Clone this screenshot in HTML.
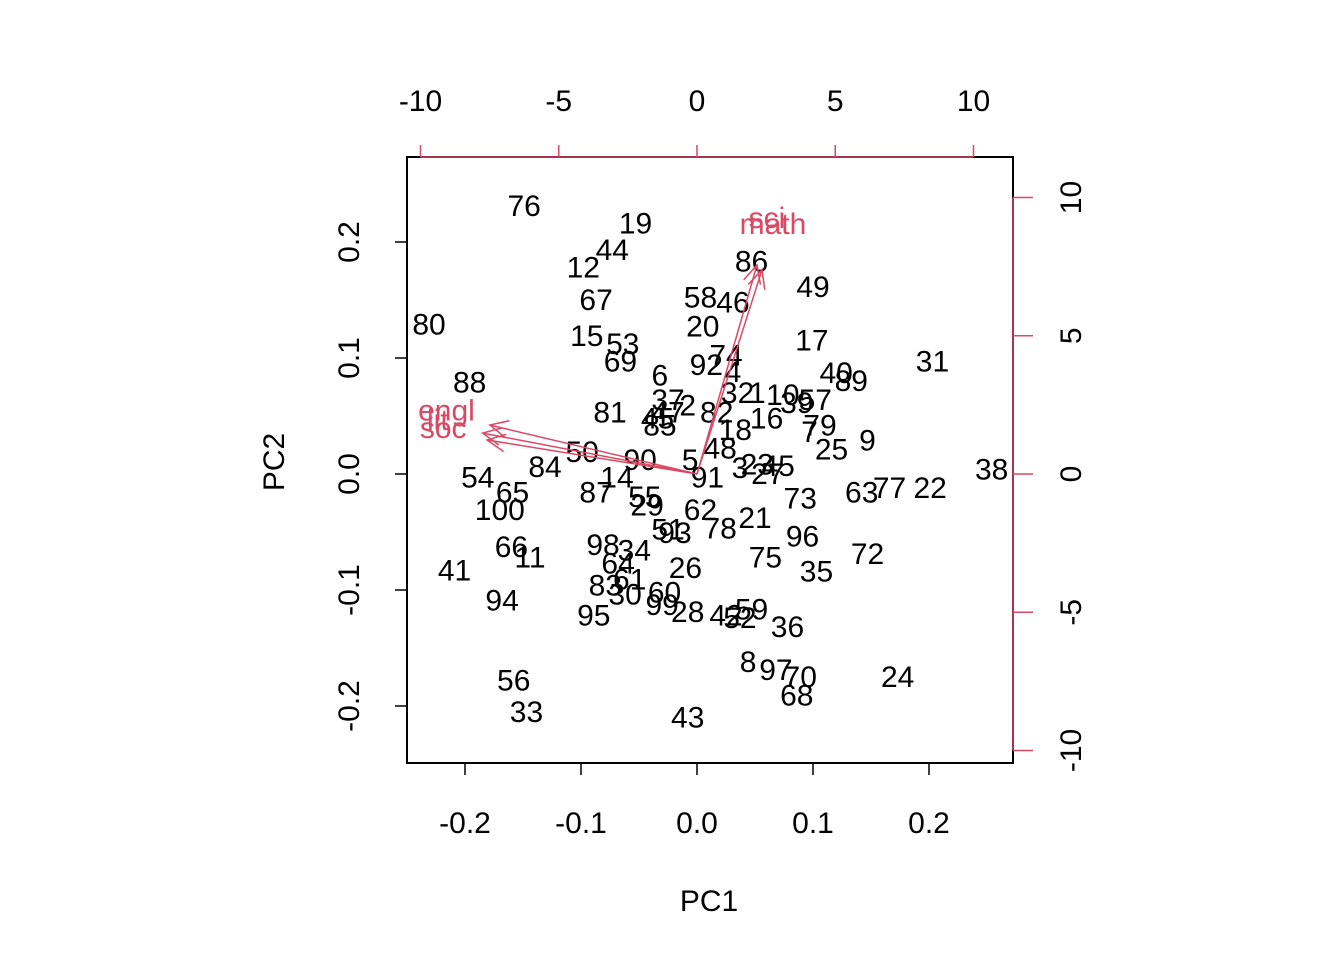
<!DOCTYPE html>
<html><head><meta charset="utf-8"><style>
html,body{margin:0;padding:0;background:#fff;}
svg{display:block;font-family:"Liberation Sans","Noto Sans CJK JP",sans-serif;}
</style></head><body>
<svg id="chart" width="1344" height="960" xmlns="http://www.w3.org/2000/svg"></svg>
<script>
const obsLabels = ["76","19","44","12","67","80","15","53","69","88","6","92","74","4","32","1","10","39","57","40","89","37","2","81","47","45","85","82","18","16","79","7","9","25","50","90","5","48","91","3","23","45","27","84","54","65","100","14","87","55","29","62","21","73","63","77","22","38","31","49","17","86","58","46","20","66","11","41","94","98","34","64","61","83","30","60","99","95","28","42","52","59","36","93","51","78","26","75","96","35","72","8","97","70","68","24","56","33","43"];
const pc1 = [-0.149,-0.053,-0.073,-0.098,-0.087,-0.231,-0.095,-0.064,-0.066,-0.196,-0.032,0.008,0.025,0.031,0.035,0.052,0.074,0.086,0.102,0.120,0.133,-0.025,-0.008,-0.075,-0.025,-0.034,-0.032,0.017,0.033,0.060,0.106,0.097,0.147,0.116,-0.099,-0.049,-0.006,0.020,0.009,0.037,0.052,0.070,0.061,-0.131,-0.189,-0.159,-0.170,-0.069,-0.087,-0.045,-0.043,0.003,0.050,0.089,0.142,0.166,0.201,0.254,0.203,0.100,0.099,0.047,0.003,0.031,0.005,-0.160,-0.144,-0.209,-0.168,-0.081,-0.054,-0.068,-0.058,-0.079,-0.062,-0.028,-0.030,-0.089,-0.008,0.025,0.037,0.047,0.078,-0.019,-0.025,0.020,-0.010,0.059,0.091,0.103,0.147,0.044,0.068,0.089,0.086,0.173,-0.158,-0.147,-0.008];
const pc2 = [0.231,0.216,0.193,0.178,0.150,0.129,0.119,0.112,0.097,0.079,0.085,0.094,0.102,0.088,0.070,0.070,0.068,0.061,0.064,0.087,0.080,0.064,0.059,0.053,0.053,0.048,0.042,0.053,0.038,0.048,0.042,0.036,0.029,0.021,0.019,0.012,0.012,0.022,-0.003,0.005,0.008,0.007,0.000,0.006,-0.003,-0.016,-0.031,-0.003,-0.016,-0.020,-0.027,-0.031,-0.038,-0.021,-0.016,-0.012,-0.012,0.004,0.097,0.161,0.115,0.183,0.152,0.148,0.127,-0.063,-0.072,-0.083,-0.109,-0.061,-0.066,-0.077,-0.091,-0.096,-0.104,-0.102,-0.113,-0.122,-0.119,-0.122,-0.124,-0.117,-0.132,-0.051,-0.048,-0.047,-0.081,-0.072,-0.054,-0.084,-0.069,-0.162,-0.169,-0.175,-0.191,-0.175,-0.178,-0.205,-0.210];
const varNames = ["sci","math","engl","lit","soc"];
const loadX = [2.17,2.35,-7.49,-7.75,-7.59];
const loadY = [7.56,7.38,1.77,1.48,1.23];
const bottomTicks = [-0.2,-0.1,0.0,0.1,0.2];
const leftTicks = [-0.2,-0.1,0.0,0.1,0.2];
const topTicks = [-10,-5,0,5,10];
const rightTicks = [-10,-5,0,5,10];

const NS="http://www.w3.org/2000/svg";
const svg=document.getElementById('chart');
const X0=697,Y0=474,S=1160,S2=27.65;
const sx=v=>X0+v*S, sy=v=>Y0-v*S, tx=v=>X0+v*S2, ty=v=>Y0-v*S2;
const RED="#DB4863";
const FS=30;
function el(tag,attrs,text){const e=document.createElementNS(NS,tag);for(const k in attrs)e.setAttribute(k,attrs[k]);if(text!==undefined)e.textContent=text;svg.appendChild(e);return e;}
const fmt=v=>v===0?"0.0":(v<0?"-":"")+Math.abs(v).toFixed(1);

const box=el('rect',{x:407,y:157,width:606,height:606,fill:'none',stroke:'#000','stroke-width':2});



const bl=el('line',{x1:sx(-0.2),x2:sx(0.2),y1:763,y2:763,stroke:'#000','stroke-width':1.5});


bottomTicks.forEach(v=>{
  const t=el('line',{x1:sx(v),x2:sx(v),y1:763,y2:775,stroke:'#000','stroke-width':1.5});
  
  
  const l=el('text',{x:sx(v),y:833,'font-size':FS,'text-anchor':'middle',fill:'#000'},fmt(v));
  
  
});
const ll=el('line',{x1:407,x2:407,y1:sy(-0.2),y2:sy(0.2),stroke:'#000','stroke-width':1.5});


leftTicks.forEach(v=>{
  const t=el('line',{x1:395,x2:407,y1:sy(v),y2:sy(v),stroke:'#000','stroke-width':1.5});
  
  
  const l=el('text',{x:0,y:0,'font-size':FS,'text-anchor':'middle',fill:'#000',transform:`translate(359,${sy(v)}) rotate(-90)`},fmt(v));
  
  
});
const tl=el('line',{x1:tx(-10),x2:tx(10),y1:157,y2:157,stroke:RED,'stroke-width':1.5});


topTicks.forEach(v=>{
  const t=el('line',{x1:tx(v),x2:tx(v),y1:145,y2:157,stroke:RED,'stroke-width':1.5});
  
  
  const l=el('text',{x:tx(v),y:111,'font-size':FS,'text-anchor':'middle',fill:'#000'},String(v));
  
  
});
const rl=el('line',{x1:1013,x2:1013,y1:ty(-10),y2:ty(10),stroke:RED,'stroke-width':1.5});


rightTicks.forEach(v=>{
  const t=el('line',{x1:1013,x2:1033,y1:ty(v),y2:ty(v),stroke:RED,'stroke-width':1.5});
  
  
  const l=el('text',{x:0,y:0,'font-size':FS,'text-anchor':'middle',fill:'#000',transform:`translate(1081,${ty(v)}) rotate(-90)`},String(v));
  
  
});
const xt=el('text',{x:709,y:911,'font-size':FS,'text-anchor':'middle',fill:'#000'},'PC1');


const yt=el('text',{x:0,y:0,'font-size':FS,'text-anchor':'middle',fill:'#000',transform:'translate(284,462) rotate(-90)'},'PC2');



obsLabels.forEach((lab,i)=>{
  const t=el('text',{x:sx(pc1[i]),y:sy(pc2[i])+10,'font-size':FS,'text-anchor':'middle',fill:'#000'},lab);
  
  
});
varNames.forEach((n,i)=>{
  const x2=tx(loadX[i]),y2=ty(loadY[i]);
  const a=el('line',{x1:X0,y1:Y0,x2:x2,y2:y2,stroke:RED,'stroke-width':1.5});
  
  
  const ang=Math.atan2(y2-Y0,x2-X0),L=20,w=0.45;
  const h=el('polyline',{points:`${x2-L*Math.cos(ang-w)},${y2-L*Math.sin(ang-w)} ${x2},${y2} ${x2-L*Math.cos(ang+w)},${y2-L*Math.sin(ang+w)}`,fill:'none',stroke:RED,'stroke-width':1.5});
  
  
  const lx=tx(loadX[i]*1.2),ly=ty(loadY[i]*1.2);
  const t=el('text',{x:lx-2,y:ly+5,'font-size':FS,'text-anchor':'middle',fill:RED},n);
  
  
});
</script>
</body></html>
